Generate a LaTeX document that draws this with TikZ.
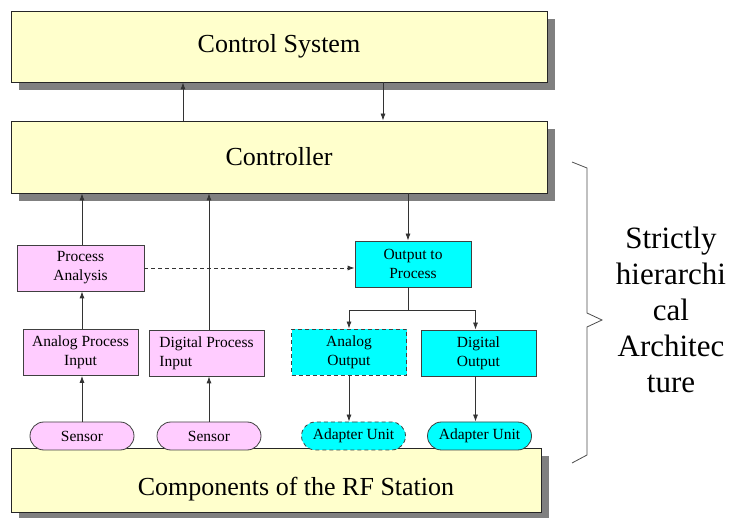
\documentclass[tikz,border=0pt]{standalone}
\usepackage{fontspec}
\IfFontExistsTF{LiberationSerif-Regular.ttf}
  {\setmainfont{LiberationSerif}[Extension=.ttf,UprightFont=*-Regular,BoldFont=*-Bold]}
  {\setmainfont{Liberation Serif}}
\usetikzlibrary{positioning}
\usetikzlibrary{shapes.misc}
\usetikzlibrary{shadows}
\usetikzlibrary{arrows.meta}
\definecolor{sysyellow}{HTML}{FFFFCC}
\definecolor{inpink}{HTML}{FFCCFF}
\definecolor{outcyan}{HTML}{00FFFF}
\definecolor{shadegray}{HTML}{808080}
\tikzset{layer/.style={draw=black!85,line width=0.8pt,fill=sysyellow,minimum width=536pt,minimum height=71pt,
                       font=\fontsize{26}{30}\selectfont,
                       general shadow={fill=shadegray,shadow xshift=8pt,shadow yshift=-8pt}},
         unit/.style={draw=black!75,line width=0.8pt,minimum width=115pt,minimum height=46pt,inner sep=2pt,
                      align=center,font=\fontsize{15.5}{19}\selectfont},
         inbox/.style={unit,fill=inpink},
         outbox/.style={unit,fill=outcyan},
         pill/.style={rounded rectangle,draw=black!75,line width=0.8pt,minimum width=106pt,minimum height=28pt,
                      inner sep=1pt,font=\fontsize{15.5}{19}\selectfont},
         flow/.style={-{Latex[length=7pt,width=5pt]},draw=black!80,line width=0.8pt},
         }

\begin{document}
\begin{tikzpicture}[x=1pt,y=-1pt,brace/.style={draw=black!70,line width=0.8pt},
                    dashline/.style={dash pattern=on 4pt off 3pt}]
\useasboundingbox (0,0) rectangle (734,518);
\node[layer] (ctrlsys) at (279,46.5) {Control System};
\node[layer,minimum height=72pt] (controller) at (279,157) {Controller};
\node[layer,minimum width=530pt,minimum height=64pt,
      label={[shift={(20,9)},font=\fontsize{26}{30}\selectfont]center:Components of the RF Station}] (rfstation) at (276,480) {};
\node[inbox,minimum width=127pt] (procana) at (80.5,268) {Process\\Analysis};
\node[inbox] (anain) at (80.5,352.5) {Analog Process\\Input};
\node[inbox,align=left] (digin) at (206.5,353) {Digital Process\\Input};
\node[outbox,minimum width=116pt] (outproc) at (413,264) {Output to\\Process};
\node[outbox,dashline] (anaout) at (349,352) {Analog\\Output};
\node[outbox] (digout) at (478.5,353) {Digital\\Output};
\node[pill,fill=inpink] (sens1) at (82,436) {Sensor};
\node[pill,fill=inpink] (sens2) at (209,436) {Sensor};
\node[pill,fill=outcyan,dashline] (adapt1) at (353.5,436) {Adapter Unit};
\node[pill,fill=outcyan] (adapt2) at (479.5,436) {Adapter Unit};
\node[font=\fontsize{31}{36}\selectfont,align=center] (strict) at (671,310) {Strictly\\hierarchi\\cal\\Architec\\ture};

\draw[flow] ([xshift=-96pt]controller.north) -- ([xshift=-96pt]ctrlsys.south);
\draw[flow] ([xshift=104pt]ctrlsys.south) -- ([xshift=104pt]controller.north);
\draw[flow] (sens1.north) -- (sens1.north |- anain.south);
\draw[flow] (sens1.north |- anain.north) -- (sens1.north |- procana.south);
\draw[flow] (sens1.north |- procana.north) -- (sens1.north |- controller.south);
\draw[flow] (sens2.north) -- (sens2.north |- digin.south);
\draw[flow] (sens2.north |- digin.north) -- (sens2.north |- controller.south);
\draw[flow,dashline] (procana.east) -- (procana.east -| outproc.west);
\coordinate (oin) at ([xshift=-5pt]outproc.north);
\coordinate (oout) at ([xshift=-5pt]outproc.south);
\coordinate (fork) at (oout |- 0,310);
\coordinate (dtop) at ([xshift=-3pt]digout.north);
\coordinate (dbot) at ([xshift=-3pt]digout.south);
\draw[flow] (oin |- controller.south) -- (oin);
\draw[draw=black!80,line width=0.8pt] (oout) -- (fork);
\draw[flow] (fork) -| (anaout.north);
\draw[flow] (fork) -| (dtop);
\draw[flow] (anaout.south) -- (anaout.south |- adapt1.north);
\draw[flow] (dbot) -- (dbot |- adapt2.north);
\draw[brace] (572,162) -- (587,168) -- (587,313) -- (602,320) -- (587,327) -- (587,455) -- (572,463);
\end{tikzpicture}
\end{document}
